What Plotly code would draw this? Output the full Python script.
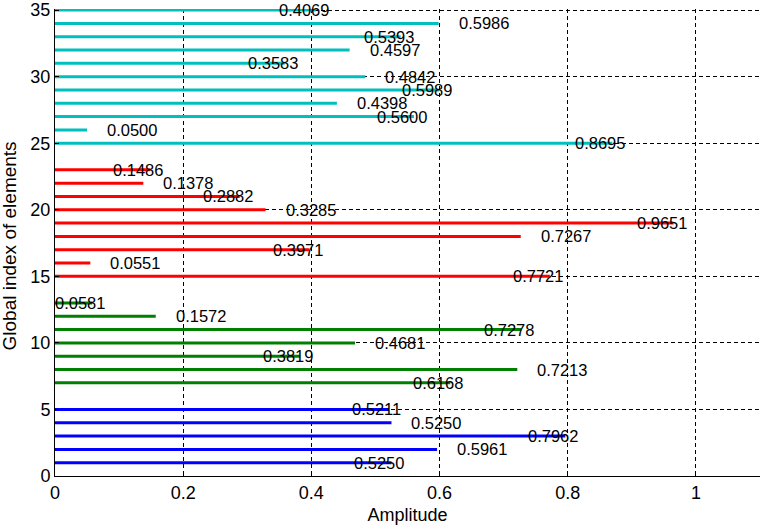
import plotly.graph_objects as go

# Data: global element index and amplitude per group
blue_idx = [1, 2, 3, 4, 5]
blue_val = [0.5250, 0.5961, 0.7962, 0.5250, 0.5211]
green_idx = [7, 8, 9, 10, 11, 12, 13]
green_val = [0.6168, 0.7213, 0.3819, 0.4681, 0.7278, 0.1572, 0.0581]
red_idx = [15, 16, 17, 18, 19, 20, 21, 22, 23]
red_val = [0.7721, 0.0551, 0.3971, 0.7267, 0.9651, 0.3285, 0.2882, 0.1378, 0.1486]
cyan_idx = [25, 26, 27, 28, 29, 30, 31, 32, 33, 34, 35]
cyan_val = [0.8695, 0.0500, 0.5600, 0.4398, 0.5989, 0.4842, 0.3583, 0.4597, 0.5393, 0.5986, 0.4069]

x_ticks = [0, 0.2, 0.4, 0.6, 0.8, 1]
y_ticks = [0, 5, 10, 15, 20, 25, 30, 35]

groups = [
    (blue_idx, blue_val, "#0000FF"),
    (green_idx, green_val, "#008000"),
    (red_idx, red_val, "#FF0000"),
    (cyan_idx, cyan_val, "#00BFBF"),
]

FONT = "Liberation Sans, Arial, Helvetica, sans-serif"

fig = go.Figure()
annotations = []
for idx, val, color in groups:
    xs, ys = [], []
    for i, v in zip(idx, val):
        xs += [0, v, None]
        ys += [i, i, None]
        annotations.append(dict(
            x=v, y=i, xref="x", yref="y", text=f"{v:.4f}",
            showarrow=False, xanchor="left", yanchor="middle",
            xshift=(-39 if i % 2 == 1 else 18), yshift=0,
            font=dict(family=FONT, size=16.5, color="black"),
        ))
    fig.add_trace(go.Scatter(x=xs, y=ys, mode="lines",
                             line=dict(color=color, width=3),
                             showlegend=False, hoverinfo="skip"))

# y-axis title placed as annotation to match position
annotations.append(dict(
    x=0, y=0.5, xref="paper", yref="paper", text="Global index of elements",
    showarrow=False, textangle=-90, xanchor="center", yanchor="middle",
    xshift=-46, yshift=-4,
    font=dict(family=FONT, size=19, color="black"),
))

axis_common = dict(
    showline=True, linecolor="black", linewidth=1, mirror=False,
    showgrid=True, gridcolor="black", gridwidth=1, griddash="4px,3px",
    zeroline=False, ticks="inside", ticklen=4, tickcolor="black",
    tickfont=dict(family=FONT, size=18, color="black"),
    ticklabeloverflow="allow",
)

fig.update_layout(
    width=760, height=526,
    margin=dict(l=55, r=0, t=6, b=50),
    paper_bgcolor="white", plot_bgcolor="white",
    annotations=annotations,
    xaxis=dict(range=[0, 1.1], tickvals=x_ticks, ticktext=[str(t) for t in x_ticks],
               title=dict(text="Amplitude", font=dict(family=FONT, size=18, color="black"), standoff=6),
               **axis_common),
    yaxis=dict(range=[0, 35.08], tickvals=y_ticks, ticktext=[str(t) for t in y_ticks],
               **axis_common),
)

fig.write_html("out.html")
